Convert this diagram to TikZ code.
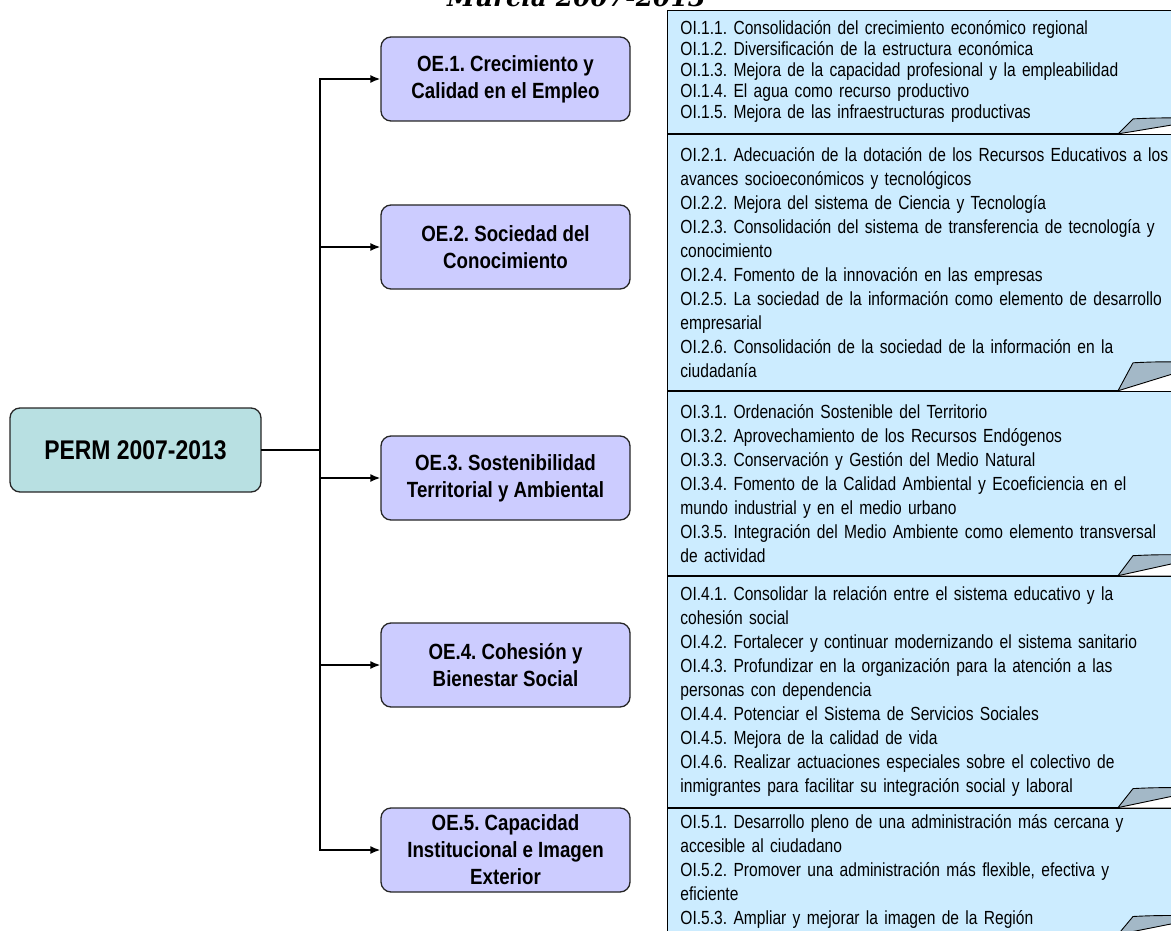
\documentclass[tikz,border=0pt]{standalone}
\usepackage{fontspec}
\setmainfont{Liberation Sans}[FakeStretch=0.85]
\newfontfamily\aimfont{Liberation Sans}[FakeStretch=0.82]
\newfontfamily\titlefont{DejaVu Serif}
\usetikzlibrary{arrows.meta}
\definecolor{permfill}{RGB}{184,224,226}
\definecolor{goalfill}{RGB}{204,204,255}
\definecolor{aimfill}{RGB}{204,236,255}
\definecolor{flapfill}{RGB}{163,184,199}
\newcommand{\fold}[2]{%
    \fill[white] ([xshift=451pt]#1.south west) -- ([xshift=510pt,yshift=#2*0.65pt]#1.south west) -- ([xshift=510pt]#1.south west) -- cycle;
    \draw[flap] ([xshift=451pt]#1.south west) -- ([xshift=466pt,yshift=#2*1pt]#1.south west)
        .. controls ([xshift=485pt,yshift=#2*1pt+1pt]#1.south west) and ([xshift=495pt,yshift=#2*1pt+1pt]#1.south west) .. ([xshift=510pt,yshift=#2*1pt+1pt]#1.south west)
        -- ([xshift=510pt,yshift=#2*0.65pt]#1.south west) -- cycle;
}

\begin{document}
\frenchspacing
\begin{tikzpicture}[x=1pt,y=-1pt]
    \tikzstyle{plan}=[draw=black!85,fill=permfill,rounded corners=10pt,line width=1.3pt,minimum width=251pt,minimum height=84pt,font=\bfseries\fontsize{27}{32}\selectfont]
    \tikzstyle{goal}=[draw=black!85,fill=goalfill,rounded corners=10pt,line width=1.3pt,minimum width=249pt,minimum height=84pt,align=center,font=\bfseries\fontsize{22}{27}\selectfont]
    \tikzstyle{aim}=[draw=black,fill=aimfill,line width=0.9pt,anchor=north west,text width=520pt,inner xsep=13pt,align=left,font=\aimfont\fontsize{19}{24}\selectfont]
    \tikzstyle{flap}=[draw=black,fill=flapfill,line width=0.9pt,line join=round]
    \tikzstyle{link}=[line width=1.6pt,line cap=rect]
    \tikzstyle{branch}=[line width=1.6pt,-{Latex[length=10pt,width=8pt]}]

    \useasboundingbox (0,0) rectangle (1171,931);
    \clip (0,0) rectangle (1171,931);

    \node[anchor=base west,inner sep=0pt,font=\titlefont\bfseries\itshape\fontsize{25}{30}\selectfont] (title) at (447,7) {Murcia 2007-2013};

    \node[plan] (perm) at (135.5,450) {PERM 2007-2013};

    \node[goal] (oe1) at (505.5,79) {OE.1. Crecimiento y\\Calidad en el Empleo};
    \node[goal] (oe2) at (505.5,247) {OE.2. Sociedad del\\Conocimiento};
    \node[goal] (oe3) at (505.5,478) {OE.3. Sostenibilidad\\Territorial y Ambiental};
    \node[goal] (oe4) at (505.5,665) {OE.4. Cohesión y\\Bienestar Social};
    \node[goal] (oe5) at (505.5,850) {OE.5. Capacidad\\Institucional e Imagen\\Exterior};

    \coordinate (fork) at (320,450);
    \draw[link] (perm.east) -- (fork);
    \draw[link] (fork |- oe1.west) -- (fork |- oe5.west);
    \draw[branch] (fork |- oe1.west) -- (oe1.west);
    \draw[branch] (fork |- oe2.west) -- (oe2.west);
    \draw[branch] (fork |- oe3.west) -- (oe3.west);
    \draw[branch] (fork |- oe4.west) -- (oe4.west);
    \draw[branch] (fork |- oe5.west) -- (oe5.west);

    \node[aim,minimum height=123pt,font=\aimfont\fontsize{19}{21}\selectfont] (oi1) at (667,10) {OI.1.1. Consolidación del crecimiento económico regional\\OI.1.2. Diversificación de la estructura económica\\OI.1.3. Mejora de la capacidad profesional y la empleabilidad\\OI.1.4. El agua como recurso productivo\\OI.1.5. Mejora de las infraestructuras productivas};
    \fold{oi1}{15}
    \node[aim,minimum height=256pt] (oi2) at (oi1.south west) {OI.2.1. Adecuación de la dotación de los Recursos Educativos a los\\avances socioeconómicos y tecnológicos\\OI.2.2. Mejora del sistema de Ciencia y Tecnología\\OI.2.3. Consolidación del sistema de transferencia de tecnología y\\conocimiento\\OI.2.4. Fomento de la innovación en las empresas\\OI.2.5. La sociedad de la información como elemento de desarrollo\\empresarial\\OI.2.6. Consolidación de la sociedad de la información en la\\ciudadanía};
    \fold{oi2}{28}
    \node[aim,minimum height=184pt] (oi3) at (oi2.south west) {OI.3.1. Ordenación Sostenible del Territorio\\OI.3.2. Aprovechamiento de los Recursos Endógenos\\OI.3.3. Conservación y Gestión del Medio Natural\\OI.3.4. Fomento de la Calidad Ambiental y Ecoeficiencia en el\\mundo industrial y en el medio urbano\\OI.3.5. Integración del Medio Ambiente como elemento transversal\\de actividad};
    \fold{oi3}{20}
    \node[aim,minimum height=231pt] (oi4) at (oi3.south west) {OI.4.1. Consolidar la relación entre el sistema educativo y la\\cohesión social\\OI.4.2. Fortalecer y continuar modernizando el sistema sanitario\\OI.4.3. Profundizar en la organización para la atención a las\\personas con dependencia\\OI.4.4. Potenciar el Sistema de Servicios Sociales\\OI.4.5. Mejora de la calidad de vida\\OI.4.6. Realizar actuaciones especiales sobre el colectivo de\\inmigrantes para facilitar su integración social y laboral};
    \fold{oi4}{19}
    \node[aim,minimum height=126pt] (oi5) at (oi4.south west) {OI.5.1. Desarrollo pleno de una administración más cercana y\\accesible al ciudadano\\OI.5.2. Promover una administración más flexible, efectiva y\\eficiente\\OI.5.3. Ampliar y mejorar la imagen de la Región};
    \fold{oi5}{18}
\end{tikzpicture}
\end{document}
